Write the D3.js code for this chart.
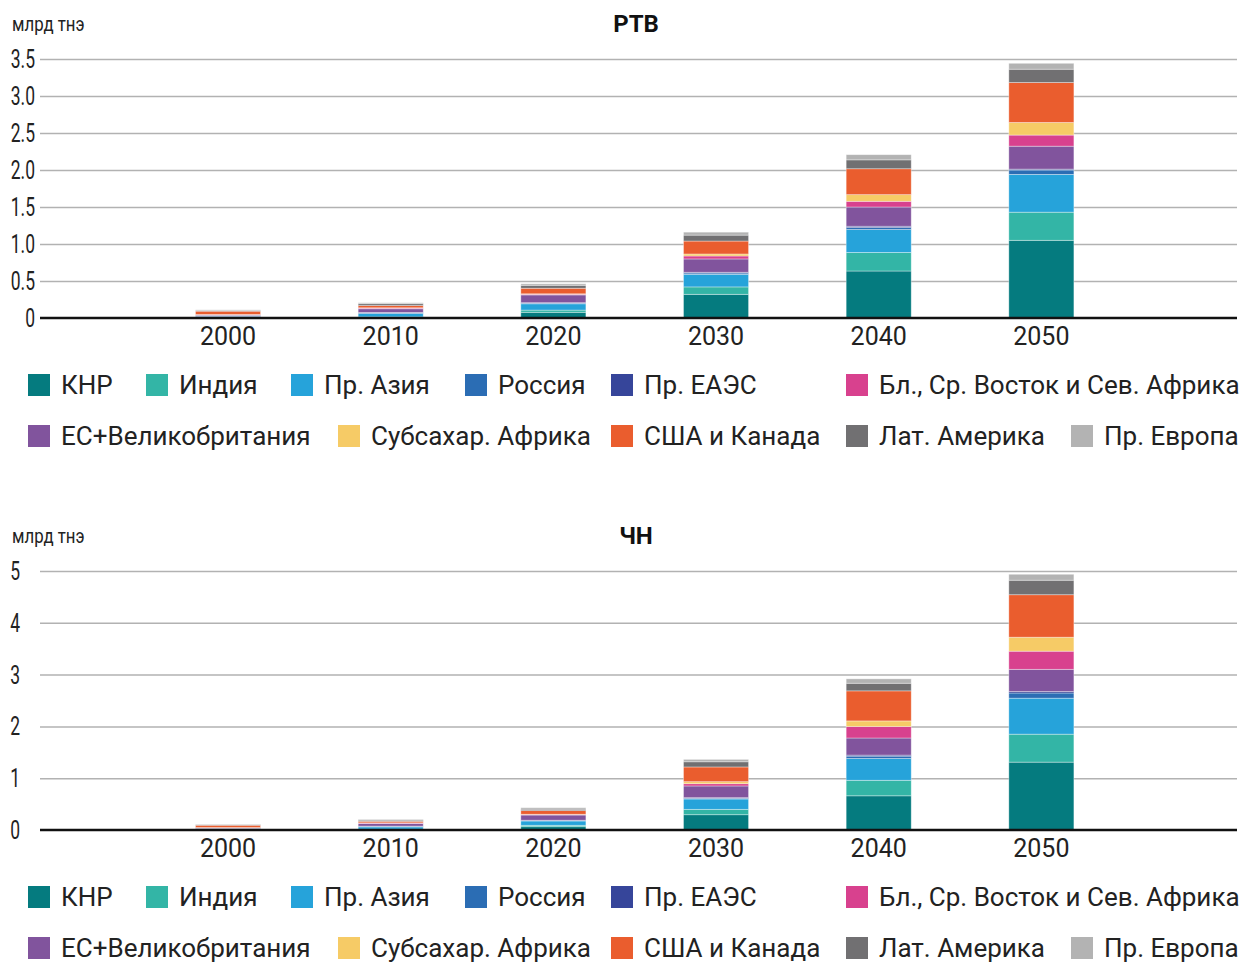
<!DOCTYPE html>
<html>
<head>
<meta charset="utf-8">
<script src="https://cdn.jsdelivr.net/npm/d3@7"></script>
<style>
  body { margin: 0; background: #fff; }
  svg { display: block; }
</style>
</head>
<body>
<svg id="chart" width="1241" height="962"></svg>
<script>
const years = ['2000', '2010', '2020', '2030', '2040', '2050'];

// legend order
const regions = ['КНР', 'Индия', 'Пр. Азия', 'Россия', 'Пр. ЕАЭС', 'Бл., Ср. Восток и Сев. Африка',
                 'ЕС+Великобритания', 'Субсахар. Африка', 'США и Канада', 'Лат. Америка', 'Пр. Европа'];
const colors = ['#057b7f', '#33b5a6', '#26a3da', '#2b6db4', '#36459a', '#d8418e',
                '#81549d', '#f6cb66', '#ea5d2e', '#717072', '#b3b3b3'];
// stacking order, bottom to top
const stackOrder = ['КНР', 'Индия', 'Пр. Азия', 'Россия', 'Пр. ЕАЭС', 'ЕС+Великобритания',
                    'Бл., Ср. Восток и Сев. Африка', 'Субсахар. Африка', 'США и Канада', 'Лат. Америка', 'Пр. Европа'];

// РТВ, млрд тнэ
const rtvKnr    = [0.005, 0.010, 0.077, 0.320, 0.635, 1.050];
const rtvIndia  = [0.002, 0.005, 0.030, 0.100, 0.250, 0.380];
const rtvAsia   = [0.010, 0.045, 0.085, 0.170, 0.310, 0.510];
const rtvRussia = [0.010, 0.010, 0.010, 0.018, 0.027, 0.060];
const rtvEaeu   = [0.005, 0.005, 0.005, 0.010, 0.018, 0.012];
const rtvMena   = [0.003, 0.010, 0.010, 0.040, 0.077, 0.150];
const rtvEu     = [0.010, 0.050, 0.105, 0.180, 0.260, 0.310];
const rtvAfrica = [0.002, 0.003, 0.005, 0.027, 0.090, 0.170];
const rtvUsa    = [0.045, 0.030, 0.075, 0.175, 0.350, 0.540];
const rtvLatam  = [0.010, 0.025, 0.040, 0.080, 0.120, 0.180];
const rtvEurope = [0.008, 0.013, 0.020, 0.040, 0.070, 0.080];

// ЧН, млрд тнэ
const chnKnr    = [0.005, 0.010, 0.064, 0.295, 0.660, 1.310];
const chnIndia  = [0.002, 0.005, 0.027, 0.104, 0.300, 0.540];
const chnAsia   = [0.010, 0.045, 0.083, 0.200, 0.420, 0.695];
const chnRussia = [0.010, 0.010, 0.010, 0.013, 0.046, 0.100];
const chnEaeu   = [0.005, 0.005, 0.005, 0.012, 0.020, 0.027];
const chnMena   = [0.003, 0.010, 0.010, 0.044, 0.220, 0.350];
const chnEu     = [0.010, 0.050, 0.100, 0.226, 0.330, 0.430];
const chnAfrica = [0.002, 0.003, 0.005, 0.039, 0.110, 0.270];
const chnUsa    = [0.045, 0.030, 0.070, 0.284, 0.580, 0.820];
const chnLatam  = [0.010, 0.022, 0.028, 0.100, 0.147, 0.280];
const chnEurope = [0.008, 0.015, 0.028, 0.046, 0.085, 0.115];

const rtvTicks = [0, 0.5, 1.0, 1.5, 2.0, 2.5, 3.0, 3.5];
const chnTicks = [0, 1, 2, 3, 4, 5];

const rtvSeries = [rtvKnr, rtvIndia, rtvAsia, rtvRussia, rtvEaeu, rtvMena, rtvEu, rtvAfrica, rtvUsa, rtvLatam, rtvEurope];
const chnSeries = [chnKnr, chnIndia, chnAsia, chnRussia, chnEaeu, chnMena, chnEu, chnAfrica, chnUsa, chnLatam, chnEurope];

const mainFont = "Roboto,'Noto Sans',sans-serif";
const colorOf = d3.scaleOrdinal().domain(regions).range(colors);

const svg = d3.select('#chart');

const scaleX = d3.scaleBand().domain(years)
  .range([146.7, 1122.7]).paddingInner(0.6).paddingOuter(0.3);

function drawPanel(top, title, series, ticks, tickFmt, labelX) {
  const g = svg.append('g').attr('transform', 'translate(0,' + top + ')');
  const ymax = ticks[ticks.length - 1];
  const scaleY = d3.scaleLinear().domain([0, ymax]).range([318, 59]);

  const rows = years.map((y, i) => {
    const r = { year: y };
    regions.forEach((name, k) => { r[name] = series[k][i]; });
    return r;
  });
  const stacked = d3.stack().keys(stackOrder)(rows);

  // grid
  const gridY = d3.axisLeft(scaleY).tickValues(ticks.slice(1)).tickFormat('').tickSize(-1197);
  g.append('g').attr('transform', 'translate(40,0)').call(gridY)
    .call(s => s.select('.domain').remove())
    .selectAll('line').attr('stroke', '#b2b2b2').attr('stroke-width', 1.5);

  // y labels (narrowed to look condensed)
  g.append('g').selectAll('text').data(ticks).enter().append('text')
    .attr('transform', d => 'translate(' + labelX + ',' + scaleY(d) + ') scale(0.7,1)')
    .attr('dy', '0.36em')
    .attr('text-anchor', 'end')
    .style('font-family', mainFont).style('font-size', '25px').style('fill', '#222')
    .text(tickFmt);

  g.append('text').attr('transform', 'translate(12,31) scale(0.8,1)')
    .style('font-family', mainFont).style('font-size', '21px').style('fill', '#222')
    .text('млрд тнэ');

  g.append('text').attr('x', 636).attr('y', 32).attr('text-anchor', 'middle')
    .style('font-family', mainFont).style('font-weight', 'bold').style('font-size', '24px').style('fill', '#111')
    .text(title);

  // bars
  g.append('g').selectAll('g').data(stacked).enter().append('g')
    .attr('fill', d => colorOf(d.key))
    .selectAll('rect').data(d => d).enter().append('rect')
    .attr('x', d => scaleX(d.data.year))
    .attr('width', scaleX.bandwidth())
    .attr('y', d => scaleY(d[1]))
    .attr('height', d => Math.max(0, scaleY(d[0]) - scaleY(d[1])))
    .attr('stroke', 'rgba(255,255,255,0.45)').attr('stroke-width', 0.8);

  // x axis
  g.append('line').attr('x1', 40).attr('x2', 1237).attr('y1', scaleY(0)).attr('y2', scaleY(0))
    .attr('stroke', '#111').attr('stroke-width', 2.5);
  g.append('g').selectAll('text').data(years).enter().append('text')
    .attr('x', d => scaleX(d) + scaleX.bandwidth() / 2).attr('y', 345)
    .attr('text-anchor', 'middle')
    .style('font-family', mainFont).style('font-size', '25px').style('fill', '#222')
    .text(d => d);

  // legend
  const legendPos = [
    [28, 385], [146, 385], [291, 385], [465, 385], [611, 385], [846, 385],
    [28, 436], [338, 436], [611, 436], [846, 436], [1071, 436]
  ];
  const legend = g.append('g').selectAll('g').data(regions).enter().append('g')
    .attr('transform', (d, i) => 'translate(' + legendPos[i][0] + ',' + legendPos[i][1] + ')');
  legend.append('rect').attr('x', 0).attr('y', -11).attr('width', 22).attr('height', 22)
    .attr('fill', d => colorOf(d));
  legend.append('text').attr('x', 33).attr('y', 0).attr('dy', '0.36em')
    .style('font-family', mainFont).style('font-size', '26px').style('fill', '#222')
    .text(d => d);
}

drawPanel(0, 'РТВ', rtvSeries, rtvTicks, d => d === 0 ? '0' : d3.format('.1f')(d), 35);
drawPanel(512, 'ЧН', chnSeries, chnTicks, d => String(d), 20);
</script>
</body>
</html>
